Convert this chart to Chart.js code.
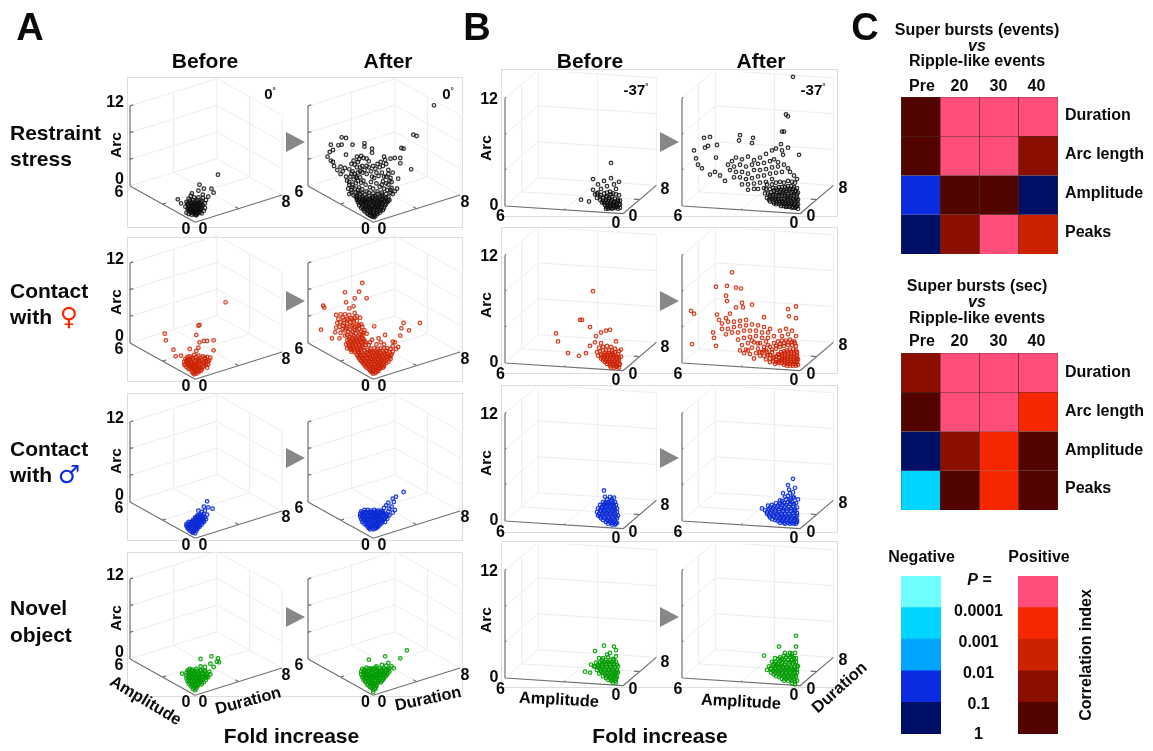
<!DOCTYPE html>
<html>
<head>
<meta charset="utf-8">
<title>Fold increase</title>
<script src="https://cdn.jsdelivr.net/npm/chart.js@4/dist/chart.umd.min.js"></script>
<style>
  html, body { margin: 0; padding: 0; background: #fff; }
  #page { position: relative; width: 1153px; height: 751px; overflow: hidden; font-family: "Liberation Sans", Arial, sans-serif; font-weight: bold; color: #0a0a0a; filter: blur(0.4px); }
  #page canvas { position: absolute; }
  .txt { position: absolute; white-space: nowrap; line-height: 1; }
  .frame { position: absolute; border: 1px solid #dcdcdc; box-sizing: border-box; }
  .arrow { position: absolute; width: 0; height: 0; border-top: 10.5px solid transparent; border-bottom: 10.5px solid transparent; border-left: 19px solid #878787; }
</style>
</head>
<body>
<div id="page"></div>
<script>
// values: flat x,y lists
// A panels: x = Duration - Amplitude (tenths of fold), y = height above the left floor corner (tenths of Arc)
const aRestraintBefore = [21,17, 4,2, 15,-4, 8,-4, 17,-10, 3,-7, -3,-11, -16,-20, -13,-26, 12,-16, 7,-13, 10,-21,
  -1,-34, -3,-30, 1,-30, -5,-33, 3,-33, -2,-37, 2,-37, -6,-37, 5,-37, 0,-41, -3,-43, 2,-42, -4,-26, 0,-25, 4,-26, -7,-28, 7,-29, -2,-21, 2,-21, 6,-22, -5,-22, -8,-24, 9,-26, -9,-31, 9,-33, -1,-17, 3,-17, -4,-15, -6,-19, 7,-18, 1,-33, -1,-28, 3,-29, -3,-35, 4,-35, -7,-34, -1,-39, 2,-27, -5,-29, 6,-31, 0,-36, 8,-37, -8,-40, -4,-40, 4,-40, -6,-42, 1,-44, 6,-41,
  -7,-26, -3,-24, 1,-23, 5,-24, -6,-31, -2,-32, 2,-31, 5,-28, -5,-36, -1,-35, 3,-36, 6,-34, -4,-38, 0,-43, 3,-39, -2,-30, 1,-27, 4,-31, -3,-27, -1,-32, 1,-38, 3,-25, -6,-35, -2,-41];
const aRestraintAfter = [56,121, 37,77, 40,75, 26,57, 28,56, -29,73, -25,72, -39,62, -32,61, -29,62, -19,62, -8,64, -8,59, -1,56, -1,50, -37,54, -40,51, -25,47, -42,44, -39,38, -37,36, 35,25, 25,34, 25,42, 20,42, 16,41, 10,44, 11,39, 23,11, 17,6,
  -36,30, -33,24, -30,29, -28,22, -26,27, -30,18, -25,14, -22,25, -20,33, -18,38, -15,44, -13,40, -11,45, -9,42, -6,41, -4,37, -20,18, -18,10, -22,6, -19,2, -15,28, -14,20, -12,13, -16,4, -13,-2, -20,-6, -16,-10, -10,30, -8,24, -6,18, -9,8, -7,2, -10,-5, -4,28, -2,22, 0,30, 2,26, 4,33, 6,28, 8,20, 5,15, 1,12, -2,6, 3,4, -3,-2, 6,-1, 9,7, 12,14, 14,24, 18,20, 10,-4, 14,2, 17,-3, 20,-8, -17,32, -21,14, -24,8, -19,-2, -14,36, -12,28, -17,18, -15,12, -11,5, -23,-4, -18,-14, -14,-6, -6,-8, 0,-4, 4,-8, 8,-10, 13,-6, 18,-12, 15,8, 9,30, 12,33, 7,36, 3,20, -1,14,
  -16,-16, -13,-20, -10,-16, -7,-19, -4,-15, -1,-18, 2,-15, 5,-19, 8,-16, 11,-19, 14,-16, -14,-24, -11,-25, -8,-23, -5,-24, -2,-22, 1,-24, 4,-23, 7,-24, 10,-23, 13,-24, -13,-29, -10,-28, -7,-30, -4,-28, -1,-29, 2,-28, 5,-30, 8,-28, 11,-29, -11,-33, -8,-34, -5,-32, -2,-34, 1,-32, 4,-34, 7,-33, 10,-33, -8,-38, -5,-37, -2,-38, 1,-37, 4,-38, 7,-37, -5,-42, -2,-41, 1,-43, 4,-42, -1,-46, 1,-47, -3,-44, -9,-21, 0,-26, 3,-31, -6,-27, 6,-27, -3,-36, -15,-21, 15,-21,
  -15,-18, -12,-17, -9,-19, -6,-17, -3,-19, 0,-16, 3,-18, 6,-16, 9,-19, 12,-17, -13,-22, -10,-22, -7,-22, -4,-21, -1,-21, 2,-21, 5,-22, 8,-21, 11,-22, 14,-22, -12,-26, -9,-26, -6,-25, -3,-25, 0,-23, 3,-26, 6,-25, 9,-26, 12,-27, -10,-31, -7,-32, -4,-31, -1,-31, 2,-31, 5,-32, 8,-31, -9,-35, -6,-35, -3,-32, 0,-34, 3,-36, 6,-35, 9,-36, -6,-40, -3,-40, 0,-40, 3,-40, 6,-40, -3,-44, 0,-45, 2,-45, -12,-12, -8,-13, -4,-10, 0,-11, 4,-12, 8,-13, 12,-12, -14,-10, -22,-12, 16,-10,
  -22,2, -20,-10, -17,-4, -15,-15, -10,-10, -14,8, -10,20, -19,22, -16,14, -12,22, -6,30, 10,14, 14,18, 16,12, 12,4, 8,2, 16,-6, 22,-4];
const aFemaleBefore = [28,61, 3,26, 4,27, -28,14, -27,4, 1,12, 4,1, 8,3, 11,3, 17,4, 17,-11, -20,-10, -18,-20, -13,-19, -5,-9, 3,-7, 1,-12, -7,-21,
  -9,-24, -5,-20, -1,-18, 3,-19, 7,-20, 11,-21, 13,-26, -10,-28, -6,-26, -2,-24, 2,-25, 6,-25, 10,-27, -9,-32, -6,-31, -3,-29, 1,-30, 4,-30, 8,-31, 12,-32, -8,-36, -5,-35, -2,-34, 1,-35, 4,-35, 7,-36, 11,-37, -6,-39, -3,-39, 0,-39, 3,-40, 6,-40, -3,-43, 0,-44, 3,-44, -1,-47, -8,-29, -4,-33, 3,-27, 0,-32, 5,-38, -1,-37, 9,-24,
  -7,-24, -3,-22, 1,-21, 5,-22, 9,-22, -8,-27, -4,-26, 0,-27, 4,-27, 8,-28, -7,-31, -4,-30, -1,-32, 2,-32, 6,-32, 10,-33, -7,-34, -3,-36, 0,-36, 3,-37, 8,-34, -5,-38, -1,-41, 2,-42, 5,-42, -2,-45, 1,-46, 12,-28, -10,-33, 14,-22];
const aFemaleAfter = [-10,90, -26,76, -13,77, -17,67, -6,67, -25,61, -18,55, -22,52, -46,56, -45,53, -48,20, -38,7, -31,7, 28,30, 43,30, 26,22, 33,19, 25,11, 1,25, 11,12, 5,7, 18,2, 20,1, 23,-6, 18,-5,
  -34,42, -32,36, -30,43, -28,38, -26,43, -24,36, -22,42, -20,37, -17,45, -15,40, -33,30, -30,31, -27,30, -24,28, -21,31, -18,32, -15,33, -12,38, -34,23, -31,24, -28,21, -25,22, -20,25, -17,24, -13,27, -10,24, -35,16, -30,15, -23,17, -19,17, -15,19, -11,17, -8,19, -26,11, -22,9, -18,11, -14,10, -10,12, -6,14, -24,4, -21,3, -18,4, -15,5, -12,4, -9,6, -25,-2, -22,-3, -19,-2, -16,-1, -13,-2, -10,0, -7,1, -24,-8, -21,-9, -18,-7, -15,-8, -12,-7, -9,-7, -20,-13, -17,-14, -14,-13, -11,-13, -3,1, -1,5, 3,-2, 7,1, 10,-2,
  -15,-18, -12,-18, -9,-17, -6,-14, -3,-12, 0,-13, 3,-12, 6,-13, 9,-12, 12,-12, 15,-14, -13,-23, -10,-22, -7,-20, -4,-18, -1,-19, 2,-18, 5,-18, 8,-19, 11,-18, 14,-20, 17,-17, -11,-27, -8,-26, -5,-24, -2,-24, 1,-23, 4,-24, 7,-24, 10,-24, 13,-25, 16,-24, -9,-31, -6,-30, -3,-29, 0,-28, 3,-29, 6,-29, 9,-30, 12,-30, -7,-35, -4,-34, -1,-34, 2,-33, 5,-34, 8,-34, 10,-35, -4,-39, -1,-38, 2,-38, 5,-39, 7,-38, -2,-43, 0,-42, 3,-43, 0,-46, -13,-15, 18,-13, 21,-9,
  -14,-20, -11,-20, -8,-18, -5,-16, -2,-15, 1,-15, 4,-15, 7,-15, 10,-15, 13,-16, 16,-19, -12,-25, -9,-24, -6,-22, -3,-21, 0,-21, 3,-21, 6,-21, 9,-21, 12,-21, 15,-22, -10,-29, -7,-28, -4,-27, -1,-26, 2,-26, 5,-26, 8,-27, 11,-27, 14,-28, -8,-33, -5,-32, -2,-31, 1,-31, 4,-31, 7,-32, 10,-32, -6,-37, -3,-36, 0,-36, 3,-36, 6,-37, 9,-37, -3,-41, 0,-40, 3,-41, 5,-42, -1,-44, 2,-45, -20,-10, -17,-11, -14,-10, -11,-10, -8,-11, -5,-10, -2,-9, 1,-8, 4,-9, 7,-8, 10,-8, 13,-8, 16,-9, -22,-6, -19,-5, -16,-4, -13,-4, -10,-4, -7,-3, -4,-3, -23,0, -20,1, -17,2, -14,1, -11,1, -8,3, -22,6, -19,7, -16,7, -13,7, -10,8, -24,12, -20,13, -16,14, -12,13, -9,15, -26,19, -21,20, -17,20, -13,21, -28,26, -24,25, -19,27, -15,26, -11,28, -27,34, -23,34, -19,35, -17,38];
const aMaleBefore = [11,1, 8,-7, 12,-8, 16,-10, 6,-15, 3,-13, 9,-13,
  5,-19, 8,-18, 11,-19, 2,-20, 0,-23, 3,-23, 6,-23, 9,-23, -2,-27, 1,-26, 4,-27, 7,-27, 10,-26, -4,-30, -1,-30, 2,-30, 5,-31, 8,-30, -6,-33, -3,-33, 0,-33, 3,-34, 6,-34, -8,-36, -5,-36, -2,-37, 1,-37, 4,-37, -7,-39, -4,-40, -1,-40, 2,-40, -5,-43, -2,-43, 1,-43, -2,-46, 0,-47, -6,-30, -8,-33, 7,-21, 3,-38,
  3,-21, 6,-20, 1,-24, 4,-24, 7,-25, -1,-28, 2,-28, 5,-28, 8,-28, -3,-31, 0,-31, 3,-31, 6,-31, -5,-34, -2,-34, 1,-35, 4,-34, -7,-37, -4,-38, -1,-38, 2,-38, -6,-41, -3,-41, 0,-41, -3,-45, -1,-44];
const aMaleAfter = [28,15, 21,8, 18,5, 19,0, 14,-1, 17,-7, 12,-5, 15,-10, 20,-12, 10,-9, 14,-14, 9,-14, 18,-16,
  -11,-14, -8,-12, -5,-12, -2,-13, 1,-12, 4,-13, 7,-13, -12,-18, -9,-17, -6,-16, -3,-17, 0,-16, 3,-17, 6,-17, 9,-17, 12,-18, -12,-22, -9,-21, -6,-21, -3,-21, 0,-20, 3,-21, 6,-21, 9,-21, 12,-22, 15,-20, -11,-26, -8,-25, -5,-25, -2,-25, 1,-24, 4,-25, 7,-25, 10,-26, 13,-25, -10,-30, -7,-29, -4,-29, -1,-29, 2,-28, 5,-29, 8,-29, 11,-30, -8,-33, -5,-33, -2,-33, 1,-32, 4,-33, 7,-33, -5,-37, -3,-37, 0,-36, 3,-37, 5,-36, -3,-41, 0,-41, 2,-40,
  -10,-16, -7,-15, -4,-15, -1,-15, 2,-15, 5,-15, 8,-15, -11,-20, -8,-19, -5,-19, -2,-19, 1,-18, 4,-19, 7,-19, 10,-19, 13,-20, -10,-24, -7,-23, -4,-23, -1,-23, 2,-22, 5,-23, 8,-23, 11,-24, -9,-28, -6,-27, -3,-27, 0,-26, 3,-27, 6,-27, 9,-28, -7,-31, -4,-31, -1,-31, 2,-30, 5,-31, 8,-31, -6,-35, -2,-35, 1,-34, 4,-35, -4,-39, -1,-39, 2,-38, 4,-38];
const aNovelBefore = [5,0, 15,4, 21,1, 22,-5, 14,-7, 17,-12, 5,-11, -12,-22, -5,-15, 20,-4, 9,-12,
  -7,-17, -3,-16, 1,-15, 5,-16, 9,-17, 13,-19, -8,-21, -5,-20, -1,-20, 3,-20, 7,-21, 11,-22, 14,-23, -8,-25, -5,-24, -2,-24, 2,-25, 5,-25, 9,-26, 12,-27, -8,-29, -5,-29, -2,-28, 1,-29, 4,-29, 7,-30, 10,-31, -7,-33, -4,-33, -1,-33, 2,-33, 5,-34, 8,-35, -6,-37, -3,-37, 0,-37, 3,-37, 6,-38, -4,-41, -1,-41, 2,-41, -2,-45, 0,-47,
  -6,-19, -3,-18, 1,-18, 5,-18, 9,-19, -6,-23, -3,-22, 0,-22, 3,-23, 7,-23, 11,-25, -6,-27, -3,-26, 0,-26, 4,-27, 7,-27, 10,-28, -6,-31, -3,-31, 0,-31, 3,-31, 6,-32, -5,-35, -2,-35, 1,-35, 4,-35, 6,-35, -3,-39, 0,-39, 3,-39, -1,-43, 1,-44];
const aNovelAfter = [31,13, 25,1, 11,4, -4,-1, 17,-11, 14,-6, 19,-14, 12,-10, 8,-9, 15,-14, 3,-11,
  -10,-15, -6,-13, -2,-14, 2,-13, 6,-14, 10,-14, 14,-16, -11,-19, -8,-18, -4,-18, 0,-17, 3,-18, 7,-18, 11,-18, 15,-19, -11,-23, -8,-22, -5,-22, -2,-21, 1,-22, 4,-22, 7,-22, 10,-22, 13,-23, -10,-27, -7,-26, -4,-26, -1,-26, 2,-25, 5,-26, 8,-26, 11,-26, -9,-31, -6,-30, -3,-30, 0,-30, 3,-29, 6,-30, 9,-31, -7,-35, -4,-34, -1,-34, 2,-33, 5,-34, 7,-35, -5,-39, -2,-38, 0,-38, 3,-39, -3,-42, 0,-42, 2,-43, 0,-46, 0,-49,
  -8,-16, -4,-15, 0,-15, 4,-16, 8,-16, 12,-16, -9,-20, -6,-20, -2,-19, 2,-19, 5,-20, 9,-20, 13,-21, -9,-25, -6,-24, -3,-24, 0,-23, 3,-24, 6,-24, 9,-24, 12,-25, -8,-29, -5,-28, -2,-28, 1,-28, 4,-28, 7,-28, 10,-29, -7,-33, -4,-32, -1,-32, 2,-31, 5,-32, 8,-33, -5,-37, -2,-36, 1,-36, 4,-36, -3,-40, 0,-40, 3,-41, -1,-44, 2,-45];

// B panels: x = position along the rotated floor (1/20 fold, 0 at the Amplitude = 0 corner), y as above
const bRestraintBefore = [-12,48, -30,30, -12,31, -19,28, -4,27, -25,24, -42,7, -34,5, -26,14, -7,19, -16,22, -22,19, -30,18, -9,24,
  -28,13, -25,15, -22,12, -19,14, -16,15, -13,16, -10,14, -7,13, -4,12, -26,9, -23,7, -20,9, -17,10, -14,9, -11,10, -8,8, -5,7, -3,6, -21,4, -18,5, -15,5, -12,5, -9,4, -6,3, -3,2, -18,1, -15,1, -12,1, -9,0, -6,-1, -3,-2, -13,-2, -10,-2, -17,-3,
  -20,6, -17,7, -14,7, -11,7, -8,5, -5,5, -19,3, -16,3, -13,3, -10,3, -7,2, -4,1, -16,-1, -13,0, -10,0, -7,0, -15,-3, -11,-3, -8,-2, -5,-3, -23,10, -12,13, -16,11];
const bRestraintAfter = [-7,144, -14,102, -12,100, -18,83, -16,83, -96,76, -90,77, -60,79, -47,76, -48,70, -61,73, -83,68, -95,65, -92,67, -106,62, -104,53, -84,54, -102,46, -98,42, -90,35, -85,38, -80,34, -75,28, -19,69, -12,65, -1,57, -18,62, -17,57,
  -68,50, -64,54, -58,52, -52,55, -46,51, -40,54, -34,58, -28,62, -24,64, -72,46, -66,44, -60,46, -54,44, -48,46, -42,47, -36,48, -30,50, -26,52, -22,49, -70,40, -64,38, -58,38, -52,36, -46,40, -40,40, -34,41, -28,43, -22,44, -16,46, -12,42, -66,32, -60,32, -54,30, -48,31, -42,33, -36,34, -30,36, -24,37, -18,38, -10,38, -6,34, -58,24, -52,24, -46,25, -40,26, -34,27, -42,19, -46,19, -52,18, -36,20, -28,30, -3,30, -5,26,
  -33,24, -28,24, -24,26, -20,27, -16,26, -12,28, -8,27, -34,19, -30,19, -27,20, -24,20, -21,21, -18,21, -15,21, -12,22, -9,22, -6,21, -3,20, -35,14, -32,14, -29,15, -26,15, -23,15, -20,16, -17,16, -14,16, -11,17, -8,16, -5,16, -2,15, -33,9, -30,10, -27,10, -24,10, -21,11, -18,11, -15,11, -12,11, -9,11, -6,11, -3,10, -30,5, -27,5, -24,6, -21,6, -18,6, -15,6, -12,7, -9,6, -6,6, -3,5, -24,2, -21,2, -18,2, -15,2, -12,2, -9,2, -6,1, -3,0, -14,-1, -11,-1, -8,-2, -5,-2, -2,-3,
  -30,12, -27,12, -24,12, -21,13, -18,13, -15,13, -12,14, -9,14, -6,13, -3,13, -31,7, -28,8, -25,8, -22,8, -19,8, -16,8, -13,9, -10,9, -7,8, -4,8, -2,7, -26,3, -23,4, -20,4, -17,4, -14,4, -11,4, -8,4, -5,3, -2,2, -19,0, -16,0, -13,0, -10,0, -7,-1, -4,-1, -26,17, -23,18, -19,18, -16,18, -13,19, -10,19, -7,19, -4,17];
const bFemaleBefore = [-30,80, -43,48, -41,48, -33,40, -67,33, -65,24, -55,11, -44,8, -37,11, -27,30, -22,34, -17,36, -13,37, -28,23, -33,19, -7,24, -22,22, -2,15,
  -24,17, -20,18, -16,19, -12,18, -8,16, -4,13, -26,12, -23,13, -20,14, -17,14, -14,14, -11,13, -8,12, -5,10, -25,8, -22,9, -19,9, -16,9, -13,9, -10,9, -7,8, -4,6, -2,7, -22,5, -19,5, -16,5, -13,5, -10,5, -7,4, -4,3, -18,1, -15,1, -12,1, -9,1, -6,0, -3,-1, -13,-3, -10,-3, -7,-4, -4,-5,
  -21,7, -18,7, -15,7, -12,7, -9,7, -6,6, -20,3, -17,3, -14,3, -11,3, -8,2, -5,1, -16,-1, -13,-1, -10,-1, -7,-2, -4,-2, -12,-5, -9,-5, -18,11, -14,11, -10,11, -6,-4];
const bFemaleAfter = [-68,101, -84,85, -73,86, -64,84, -59,83, -74,75, -73,69, -58,67, -48,65, -57,62, -64,62, -109,58, -106,55, -108,21, -84,19, -87,34, -86,28, -4,63, -12,60, -4,50, -11,52, -36,51, -83,54, -70,55, -81,48, -74,50,
  -78,44, -72,46, -66,46, -60,47, -54,48, -78,38, -72,38, -66,40, -60,41, -54,42, -48,43, -42,42, -36,40, -30,38, -74,32, -68,34, -62,34, -56,36, -50,36, -44,36, -38,34, -32,34, -20,36, -14,38, -8,36, -4,30, -62,26, -56,28, -50,29, -44,30, -38,28, -32,28, -26,30, -18,30, -12,32, -58,20, -52,22, -46,23, -40,22, -34,24, -60,14, -54,15, -48,17, -42,16, -56,11, -50,10, -44,11, -46,5, -40,8, -36,18,
  -38,12, -34,14, -30,18, -26,22, -22,24, -18,25, -14,25, -10,26, -6,24, -36,8, -32,9, -28,12, -24,16, -20,18, -16,19, -12,20, -8,20, -4,19, -34,4, -30,5, -26,7, -22,10, -19,12, -16,13, -13,14, -10,15, -7,15, -4,14, -30,1, -27,2, -24,4, -21,6, -18,8, -15,9, -12,10, -9,10, -6,10, -3,9, -25,-1, -22,1, -19,3, -16,4, -13,5, -10,5, -7,5, -4,5, -2,4, -18,0, -15,0, -12,1, -9,1, -6,1, -3,1, -13,-3, -10,-3, -7,-3, -4,-3, -2,-2,
  -27,5, -24,7, -21,9, -18,10, -15,11, -12,12, -9,12, -6,12, -3,12, -24,1, -21,3, -18,5, -15,6, -12,7, -9,7, -6,7, -3,7, -21,0, -18,2, -15,3, -12,3, -9,3, -6,3, -3,3, -16,-2, -13,-1, -10,-1, -7,-1, -4,-1, -28,15, -24,19, -20,21, -16,22, -12,23, -8,23, -5,22, -32,20, -40,12, -36,14, -33,12, -30,9, -42,22, -48,25, -52,14];
const bMaleBefore = [-19,34, -18,27, -13,27, -9,26, -16,24, -11,24,
  -20,21, -16,21, -12,22, -8,21, -23,18, -19,18, -15,18, -11,18, -7,18, -25,14, -21,14, -17,15, -13,15, -9,15, -6,14, -26,10, -22,11, -18,11, -14,11, -10,11, -6,10, -25,6, -21,7, -17,7, -13,7, -9,7, -5,6, -22,3, -18,3, -14,3, -10,3, -6,3, -17,-1, -13,-1, -9,-1, -6,-2, -11,-4, -8,-4,
  -18,20, -14,20, -10,20, -21,16, -17,17, -13,17, -9,17, -23,12, -19,13, -15,13, -11,13, -8,13, -24,8, -20,9, -16,9, -12,9, -8,9, -23,5, -19,5, -15,5, -11,5, -7,5, -20,1, -16,1, -12,1, -8,1, -15,-3, -11,-2, -7,-3];
const bMaleAfter = [-7,47, -12,40, -17,31, -2,24, -38,14, -20,23, -10,31, -7,27, -15,27, -11,35, -5,37, -9,25,
  -32,17, -28,18, -24,20, -20,19, -16,20, -12,21, -8,21, -4,20, -35,12, -31,13, -27,14, -23,15, -19,15, -15,16, -11,16, -7,16, -3,15, -33,8, -29,9, -25,10, -21,10, -17,11, -13,11, -9,11, -5,11, -30,4, -26,5, -22,6, -18,6, -14,6, -10,6, -6,6, -3,6, -25,1, -21,2, -17,2, -13,2, -9,2, -5,2, -3,1, -20,-2, -16,-2, -12,-2, -8,-2, -4,-3, -14,24, -6,26,
  -30,15, -26,16, -22,17, -18,18, -14,18, -10,19, -6,19, -33,10, -29,11, -25,12, -21,13, -17,13, -13,13, -9,14, -5,13, -31,6, -27,7, -23,8, -19,8, -15,8, -11,8, -7,9, -3,9, -28,2, -24,3, -20,4, -16,4, -12,4, -8,4, -4,4, -22,0, -18,0, -14,0, -10,0, -6,0, -3,-1, -15,-3, -10,-3, -6,-3, -18,22, -10,23, -12,28, -7,32];
const bNovelBefore = [-19,36, -9,35, -28,30, -7,31, -13,28, -7,24, -38,7, -33,6, -32,15, -28,13, -5,6, -16,26,
  -24,22, -20,22, -15,23, -10,21, -27,17, -23,17, -19,18, -15,18, -11,18, -7,18, -29,13, -25,13, -21,14, -17,14, -13,14, -9,14, -5,13, -26,9, -22,10, -18,10, -14,10, -10,10, -6,9, -24,5, -20,6, -16,6, -12,6, -8,6, -20,2, -16,2, -12,2, -8,2, -6,1, -15,-2, -11,-2, -8,-3, -10,-5, -7,-5,
  -21,20, -17,20, -13,20, -9,20, -25,15, -21,16, -17,16, -13,16, -9,16, -6,15, -24,11, -20,12, -16,12, -12,12, -8,12, -22,7, -18,8, -14,8, -10,8, -6,7, -18,4, -14,4, -10,4, -7,4, -17,0, -13,0, -10,0, -7,-1, -12,-3];
const bNovelAfter = [-4,47, -4,35, -21,35, -36,25, -2,13, -8,27, -15,28, -10,28, -5,28,
  -25,22, -20,23, -16,25, -12,25, -8,24, -4,22, -28,18, -24,18, -20,19, -16,20, -12,20, -8,20, -4,18, -31,13, -27,14, -23,14, -19,15, -15,15, -11,16, -7,16, -3,14, -33,9, -29,10, -25,10, -21,11, -17,11, -13,11, -9,11, -5,10, -29,6, -25,6, -21,7, -17,7, -13,7, -9,7, -5,7, -3,6, -24,2, -20,3, -16,3, -12,3, -8,3, -4,3, -18,-1, -14,-1, -10,-1, -6,-1, -3,-3, -8,-6, -5,-7,
  -22,21, -18,21, -14,23, -10,23, -6,22, -26,16, -22,16, -18,17, -14,18, -10,18, -6,18, -29,11, -25,12, -21,13, -17,13, -13,13, -9,13, -5,13, -27,8, -23,8, -19,9, -15,9, -11,9, -7,9, -3,9, -26,4, -22,5, -18,5, -14,5, -10,5, -6,5, -21,1, -16,1, -12,1, -8,1, -4,1, -16,-3, -12,-3, -8,-3, -5,-4];

// correlation heatmaps: positive 1..5 and negative -1..-5 are the P bands
const heatColumns = ['Pre', '20', '30', '40'];
const heatRows = ['Duration', 'Arc length', 'Amplitude', 'Peaks'];
const heatEvents = [[1,5,5,5], [1,5,5,2], [-2,1,1,-1], [-1,2,5,3]];
const heatSeconds = [[2,5,5,5], [1,5,5,4], [-1,2,4,1], [-4,1,4,1]];
const negativeBands = [-5,-4,-3,-2,-1];
const positiveBands = [5,4,3,2,1];
const pLabels = ['0.0001', '0.001', '0.01', '0.1', '1'];

const bandColors = { 1:'#520400', 2:'#8a0f00', 3:'#cc2200', 4:'#f72800', 5:'#ff4d7a',
  '-1':'#000f66', '-2':'#0a2be0', '-3':'#00a5ff', '-4':'#00d5ff', '-5':'#6fffff' };

const page = document.getElementById('page');

function pairs(flat) {
  const out = [];
  for (let i = 0; i < flat.length; i += 2) out.push({ x: flat[i], y: flat[i + 1] });
  return out;
}

function text(str, x, y, size, opts = {}) {
  const el = document.createElement('div');
  el.className = 'txt';
  el.innerHTML = str;
  el.style.left = x + 'px';
  el.style.top = y + 'px';
  el.style.fontSize = size + 'px';
  const shift = opts.align === 'left' ? '0' : opts.align === 'right' ? '-100%' : '-50%';
  el.style.transform = `translate(${shift},-50%) rotate(${opts.rot || 0}deg)`;
  if (opts.color) el.style.color = opts.color;
  if (opts.font) { el.style.fontFamily = opts.font; el.style.fontWeight = 'normal'; }
  page.appendChild(el);
}

function box(cls, x, y, w, h) {
  const el = document.createElement('div');
  el.className = cls;
  el.style.left = x + 'px';
  el.style.top = y + 'px';
  if (w) { el.style.width = w + 'px'; el.style.height = h + 'px'; }
  page.appendChild(el);
}

function newCanvas(x, y, w, h) {
  const c = document.createElement('canvas');
  c.width = w; c.height = h;
  c.style.left = x + 'px';
  c.style.top = y + 'px';
  c.style.width = w + 'px';
  c.style.height = h + 'px';
  page.appendChild(c);
  return c;
}

// the two camera angles of the 3D plots, amplitude / duration / arc to flat units
const viewA = { pxX: 1.086, pxY: 0.667, leftX: -60,
  project: (a, d, z) => ({ x: 10 * (d - a), y: -54.4 + a * 9.07 + d * 5.11 + z * 10 }) };
const viewB = { pxX: 1, pxY: 0.897, leftX: -118,
  project: (a, d, z) => ({ x: -19.67 * a + 4.17 * d, y: -8.6 + a * 1.43 + d * 3.95 + z * 10 }) };

function segments(view, list) {
  const out = [];
  list.forEach(s => {
    out.push(view.project(...s[0]), view.project(...s[1]), { x: NaN, y: NaN });
  });
  return out;
}

const gridSegments = [
  [[6,0,4],[6,8,4]], [[6,0,8],[6,8,8]], [[6,0,12],[6,8,12]], [[6,4,0],[6,4,12]], [[6,8,0],[6,8,12]],
  [[6,8,4],[0,8,4]], [[6,8,8],[0,8,8]], [[6,8,12],[0,8,12]], [[3,8,0],[3,8,12]], [[0,8,0],[0,8,12]],
  [[6,0,0],[6,8,0]], [[6,8,0],[0,8,0]], [[6,4,0],[0,4,0]], [[3,0,0],[3,8,0]]
];
const axisSegments = [
  [[6,0,0],[6,0,12]], [[6,0,0],[0,0,0]], [[0,0,0],[0,8,0]],
  [[6,0,4],[6,0.3,4]], [[6,0,8],[6,0.3,8]], [[6,0,12],[6,0.3,12]], [[3,0,0],[3,0.3,0]], [[0,4,0],[0.3,4,0]]
];

function plot3d(view, lx, ly, values, color) {
  const pad = 12, up = 134, w = 182, h = 192;
  const xMin = view.leftX - pad / view.pxX;
  const yMax = up / view.pxY;
  new Chart(newCanvas(lx - pad, ly - up, w, h), {
    type: 'scatter',
    data: {
      datasets: [
        { data: pairs(values), pointRadius: 1.8, pointBorderWidth: 1.2, pointBorderColor: color.line, pointBackgroundColor: color.fill, showLine: false, order: 0 },
        { data: segments(view, axisSegments), showLine: true, pointRadius: 0, borderColor: '#707070', borderWidth: 1.2, spanGaps: false, order: 1 },
        { data: segments(view, gridSegments), showLine: true, pointRadius: 0, borderColor: '#ededed', borderWidth: 1, spanGaps: false, order: 2 }
      ]
    },
    options: {
      responsive: false,
      animation: false,
      layout: { padding: 0, autoPadding: false },
      plugins: { legend: { display: false }, tooltip: { enabled: false } },
      scales: {
        x: { type: 'linear', display: false, bounds: 'data', min: xMin, max: xMin + w / view.pxX },
        y: { type: 'linear', display: false, bounds: 'data', max: yMax, min: yMax - h / view.pxY }
      }
    }
  });
}

function cells(x, y, w, h, rows, stroke) {
  // rows top to bottom, stacked so the first row ends up on top
  const datasets = rows.slice().reverse().map(row => ({
    data: row.map(() => 1),
    backgroundColor: row.map(v => bandColors[v]),
    borderColor: stroke || 'transparent',
    borderWidth: stroke ? 0.6 : 0,
    barPercentage: 1,
    categoryPercentage: 1
  }));
  new Chart(newCanvas(x, y, w, h), {
    type: 'bar',
    data: { labels: rows[0].map((v, i) => i), datasets },
    options: {
      responsive: false,
      animation: false,
      layout: { padding: 0, autoPadding: false },
      plugins: { legend: { display: false }, tooltip: { enabled: false } },
      scales: {
        x: { stacked: true, display: false },
        y: { stacked: true, display: false, min: 0, max: rows.length }
      }
    }
  });
}

// --- frames around each before/after pair
const framesA = [[77,228],[237,382],[393,541],[552,697]];
const framesB = [[69,217],[227,374],[385,533],[541,688]];
framesA.forEach(f => box('frame', 127, f[0], 336, f[1] - f[0]));
framesB.forEach(f => box('frame', 501, f[0], 337, f[1] - f[0]));

// --- 3D panels
const black = { line: 'rgba(15,15,15,0.85)', fill: 'rgba(15,15,15,0.12)' };
const red = { line: 'rgba(204,34,0,0.85)', fill: 'rgba(204,34,0,0.15)' };
const blue = { line: 'rgba(10,43,214,0.9)', fill: 'rgba(10,43,214,0.15)' };
const green = { line: 'rgba(0,156,0,0.9)', fill: 'rgba(0,156,0,0.15)' };
const floorA = [186, 343.3, 501.7, 659];
const floorB = [205.7, 363.3, 521, 678.3];
const seriesA = [[aRestraintBefore, aRestraintAfter, black], [aFemaleBefore, aFemaleAfter, red], [aMaleBefore, aMaleAfter, blue], [aNovelBefore, aNovelAfter, green]];
const seriesB = [[bRestraintBefore, bRestraintAfter, black], [bFemaleBefore, bFemaleAfter, red], [bMaleBefore, bMaleAfter, blue], [bNovelBefore, bNovelAfter, green]];
const arrowsY = [132, 291, 448, 607];

seriesA.forEach((s, i) => {
  const ly = floorA[i];
  plot3d(viewA, 130, ly, s[0], s[2]);
  plot3d(viewA, 308, ly, s[1], s[2]);
  text('12', 124, ly - 84, 16, { align: 'right' });
  text('0', 124, ly - 7, 16, { align: 'right' });
  text('6', 119, ly + 6, 16);
  text('Arc', 116, ly - 41, 15.5, { rot: -90 });
  text('8', 286, ly + 15.5, 16);
  text('0', 186, ly + 43, 16);
  text('0', 203, ly + 43, 16);
  text('6', 299, ly + 6, 16);
  text('8', 465, ly + 15.5, 16);
  text('0', 365.5, ly + 43, 16);
  text('0', 382, ly + 43, 16);
  box('arrow', 286, arrowsY[i]);
});

seriesB.forEach((s, i) => {
  const ly = floorB[i];
  plot3d(viewB, 505, ly, s[0], s[2]);
  plot3d(viewB, 681.7, ly, s[1], s[2]);
  text('12', 498, ly - 107, 16, { align: 'right' });
  text('0', 494, ly - 1, 16);
  text('6', 500.5, ly + 10.5, 16);
  text('Arc', 486, ly - 58, 15.5, { rot: -90 });
  text('0', 616, ly + 17, 16);
  text('0', 633, ly + 10.5, 16);
  text('8', 665, ly - 16.5, 16);
  text('6', 678, ly + 10.5, 16);
  text('0', 794, ly + 17, 16);
  text('0', 811, ly + 10.5, 16);
  text('8', 843, ly - 18, 16);
  box('arrow', 660, arrowsY[i]);
});

// --- titles and axis names
text('A', 30, 27, 38);
text('B', 477, 27, 38);
text('C', 865, 27, 38);
text('Before', 205, 60, 21);
text('After', 388, 60, 21);
text('Before', 590, 60, 21);
text('After', 761, 60, 21);
text('0<sup style="font-size:8px">°</sup>', 270, 93, 15);
text('0<sup style="font-size:8px">°</sup>', 448, 93, 15);
text('-37<sup style="font-size:8px">°</sup>', 636, 89, 15);
text('-37<sup style="font-size:8px">°</sup>', 813, 89, 15);

text('Restraint', 10, 132, 21, { align: 'left' });
text('stress', 10, 158, 21, { align: 'left' });
text('Contact', 10, 290, 21, { align: 'left' });
text('with', 10, 316, 21, { align: 'left' });
text('♀', 69, 316, 25, { color: '#f72800', font: '"DejaVu Sans"' });
text('Contact', 10, 448, 21, { align: 'left' });
text('with', 10, 474, 21, { align: 'left' });
text('♂', 69, 474, 25, { color: '#0a2be0', font: '"DejaVu Sans"' });
text('Novel', 10, 607, 21, { align: 'left' });
text('object', 10, 634, 21, { align: 'left' });

text('Amplitude', 145.5, 700, 16.4, { rot: 31 });
text('Duration', 248, 700, 16.4, { rot: -15 });
text('Duration', 428, 698, 16.4, { rot: -12 });
text('Amplitude', 559, 699, 16.4, { rot: 3 });
text('Amplitude', 741, 701, 16.4, { rot: 3 });
text('Duration', 839, 687, 16.4, { rot: -42 });
text('Fold increase', 291.5, 735, 21);
text('Fold increase', 660, 735, 21);

// --- panel C
function heatBlock(title, y0, baseY, rows, titleY, rowY) {
  text(title, 977, titleY[0], 16);
  text('<i>vs</i>', 977, titleY[1], 16);
  text('Ripple-like events', 977, titleY[2], 16);
  [922, 959.5, 998.5, 1036.5].forEach((cx, i) => text(heatColumns[i], cx, baseY, 16));
  heatRows.forEach((name, i) => text(name, 1065, rowY[i], 16, { align: 'left' }));
  cells(901, y0, 157, 157, rows, 'rgba(40,5,5,0.8)');
}
heatBlock('Super bursts (events)', 97, 86, heatEvents, [30, 46, 61], [115, 154, 193, 232]);
heatBlock('Super bursts (sec)', 353, 341, heatSeconds, [286, 302, 318], [372, 411, 449.5, 488]);

text('Negative', 921.5, 556.5, 16);
text('Positive', 1039, 556.5, 16);
cells(901, 576, 40, 158, negativeBands.map(v => [v]));
cells(1018, 576, 40, 158, positiveBands.map(v => [v]));
text('<i>P</i> =', 979.5, 580, 16);
[610.5, 641.5, 672.5, 704, 734].forEach((cy, i) => text(pLabels[i], 978.5, cy, 16));
text('Correlation index', 1086, 655, 16, { rot: -90 });
</script>
</body>
</html>
